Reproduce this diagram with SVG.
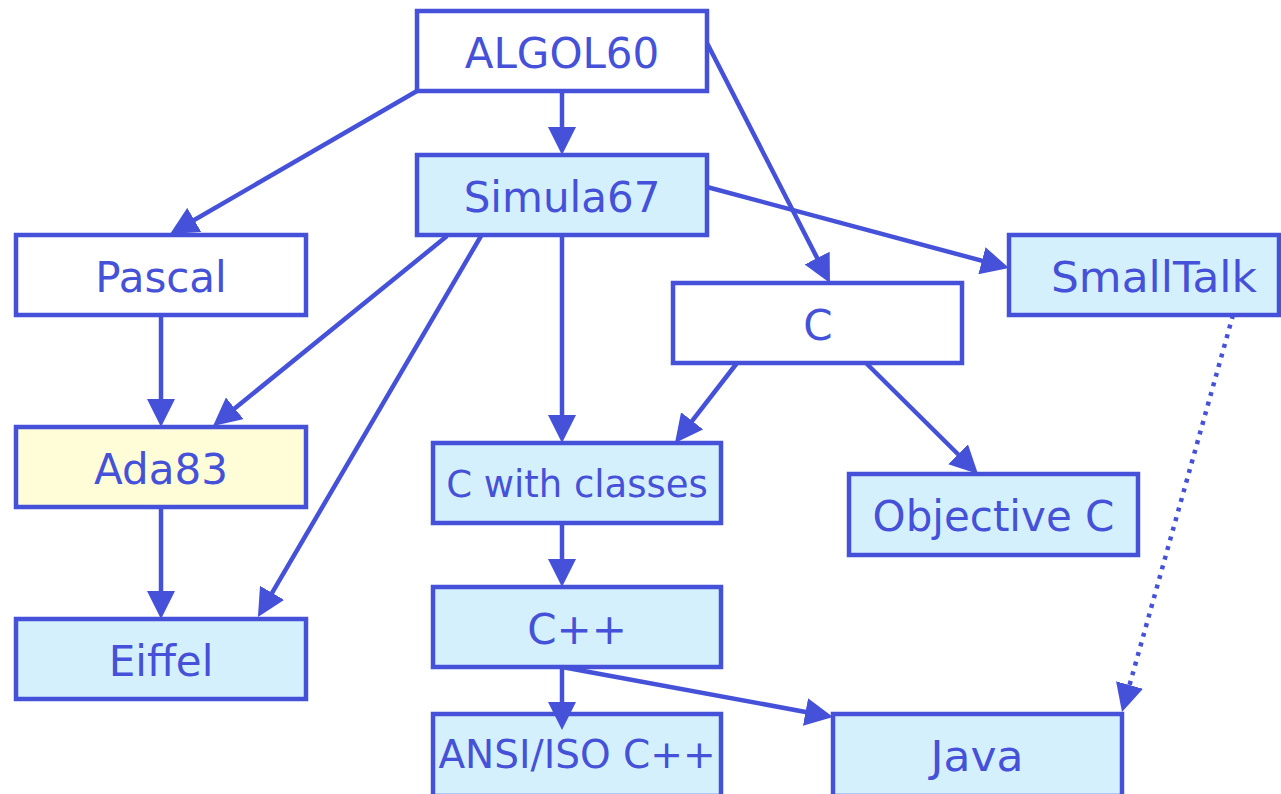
<svg xmlns="http://www.w3.org/2000/svg" width="1281" height="794" viewBox="0 0 1281 794">
<style>
.box{stroke:#4551d8;stroke-width:4.5}
.w{fill:#ffffff}
.b{fill:#d5f0fd}
.y{fill:#fffdd8}
.t{font-family:"DejaVu Sans",Verdana,sans-serif;font-size:42px;fill:#4551d8;text-anchor:middle}
.s{font-size:37px}
.m{font-size:39px}
.c{stroke:#4551d8;stroke-width:4.5;fill:none;marker-end:url(#ah)}
.d{stroke-dasharray:4 6}
</style>
<defs>
<marker id="ah" viewBox="0 0 28 28" refX="18" refY="14" markerWidth="28" markerHeight="28" markerUnits="userSpaceOnUse" orient="auto">
<path d="M0,0 L28,14 L0,28 z" fill="#4551d8"/>
</marker>
</defs>
<rect width="1281" height="794" fill="#ffffff"/>
<g id="algol60"><rect class="box w" x="417" y="11" width="290" height="80"/><text class="t" x="562" y="68">ALGOL60</text></g>
<g id="simula67"><rect class="box b" x="417" y="155" width="290" height="80"/><text class="t" x="562" y="212">Simula67</text></g>
<g id="pascal"><rect class="box w" x="16" y="235" width="290" height="80"/><text class="t" x="161" y="292">Pascal</text></g>
<g id="smalltalk"><rect class="box b" x="1009" y="235" width="270" height="80"/><text class="t" x="1154" y="292" textLength="206" lengthAdjust="spacingAndGlyphs">SmallTalk</text></g>
<g id="c"><rect class="box w" x="673" y="283" width="289" height="80"/><text class="t" x="818" y="340">C</text></g>
<g id="ada83"><rect class="box y" x="16" y="427" width="290" height="80"/><text class="t" x="161" y="484">Ada83</text></g>
<g id="cwithclasses"><rect class="box b" x="433" y="443" width="288" height="80"/><text class="t s" x="577" y="497">C with classes</text></g>
<g id="objectivec"><rect class="box b" x="849" y="474" width="289" height="81"/><text class="t" x="993.5" y="531">Objective C</text></g>
<g id="eiffel"><rect class="box b" x="16" y="619" width="290" height="80"/><text class="t" x="161" y="676">Eiffel</text></g>
<g id="cpp"><rect class="box b" x="433" y="587" width="288" height="80"/><text class="t" x="577" y="644">C++</text></g>
<g id="ansiiso"><rect class="box b" x="433" y="714" width="288" height="82"/><text class="t m" x="577" y="768">ANSI/ISO C++</text></g>
<g id="java"><rect class="box b" x="833" y="714" width="289" height="82"/><text class="t" x="977" y="771" textLength="93" lengthAdjust="spacingAndGlyphs">Java</text></g>
<g id="connectors">
<line class="c" x1="562" y1="91" x2="562" y2="145"/>
<line class="c" x1="417" y1="91" x2="178.7" y2="229"/>
<line class="c" x1="707" y1="43" x2="825.4" y2="274.1"/>
<line class="c" x1="707" y1="187" x2="999.3" y2="265.4"/>
<line class="c" x1="562" y1="235" x2="562" y2="433"/>
<line class="c" x1="447" y1="236" x2="220.8" y2="419.7"/>
<line class="c" x1="481" y1="236" x2="263" y2="608.4"/>
<line class="c" x1="161" y1="315" x2="161" y2="417"/>
<line class="c" x1="161" y1="507" x2="161" y2="609"/>
<line class="c" x1="737" y1="363" x2="681.1" y2="435.1"/>
<line class="c" x1="866" y1="363" x2="970.9" y2="467"/>
<line class="c d" x1="1233" y1="315" x2="1124.7" y2="702.4"/>
<line class="c" x1="562" y1="523" x2="562" y2="577"/>
<line class="c" x1="562" y1="667" x2="562" y2="720"/>
<line class="c" x1="562" y1="667" x2="823.2" y2="715.2"/>
</g>
</svg>
